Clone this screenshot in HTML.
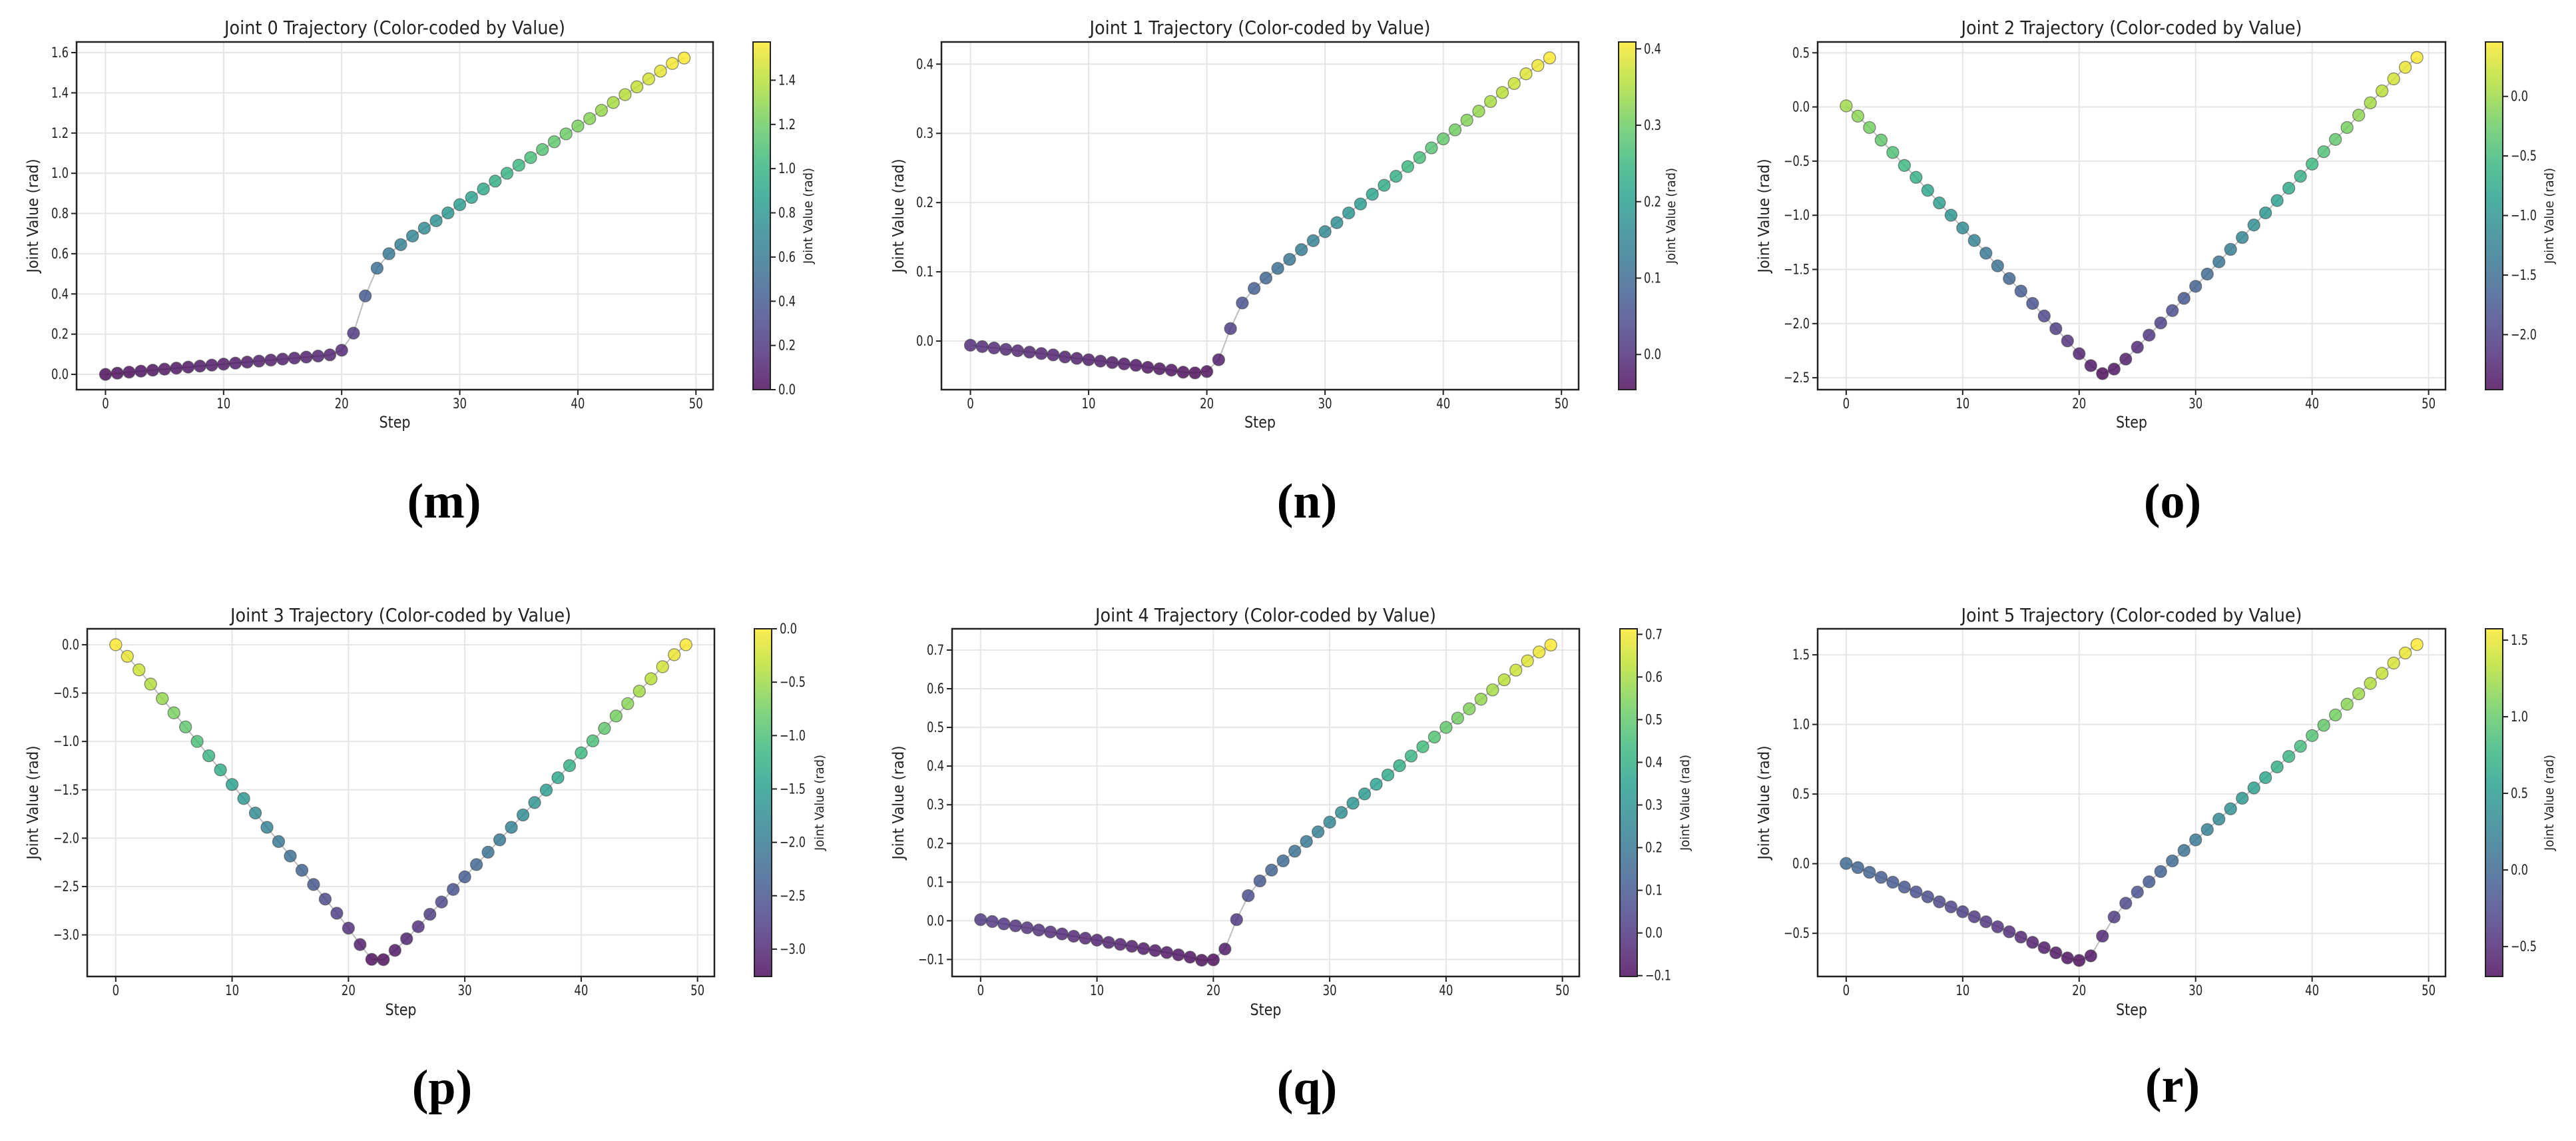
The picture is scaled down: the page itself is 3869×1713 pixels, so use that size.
<!DOCTYPE html>
<html><head><meta charset="utf-8"><style>
html,body{margin:0;padding:0;background:#fff;}
svg{display:block;}
text{font-family:"DejaVu Sans","Liberation Sans",sans-serif;fill:#222;}
.lab{font-family:"Liberation Serif",serif;font-weight:bold;fill:#000;}
</style></head><body>
<svg id="fig" width="3869" height="1713" viewBox="0 0 3869 1713" xmlns="http://www.w3.org/2000/svg"></svg>
<script>
const joint0Values=[0,0.006,0.011,0.016,0.021,0.026,0.031,0.036,0.041,0.046,0.051,0.056,0.061,0.066,0.071,0.076,0.081,0.086,0.091,0.097,0.12,0.205,0.39,0.528,0.60,0.645,0.688,0.727,0.764,0.803,0.844,0.88,0.922,0.961,1.0,1.04,1.078,1.118,1.157,1.196,1.235,1.272,1.313,1.352,1.391,1.43,1.469,1.508,1.546,1.573];
const joint1Values=[-0.006,-0.008,-0.010,-0.012,-0.014,-0.016,-0.018,-0.020,-0.023,-0.025,-0.027,-0.029,-0.031,-0.033,-0.035,-0.038,-0.040,-0.042,-0.045,-0.046,-0.044,-0.027,0.018,0.055,0.076,0.091,0.105,0.118,0.132,0.145,0.158,0.171,0.185,0.198,0.212,0.225,0.238,0.252,0.265,0.279,0.292,0.305,0.319,0.332,0.346,0.359,0.372,0.386,0.398,0.409];
const joint2Values=[0.01,-0.085,-0.19,-0.306,-0.42,-0.54,-0.65,-0.77,-0.886,-1.0,-1.117,-1.233,-1.35,-1.467,-1.584,-1.70,-1.814,-1.93,-2.047,-2.16,-2.278,-2.388,-2.462,-2.42,-2.328,-2.218,-2.107,-1.994,-1.88,-1.767,-1.656,-1.543,-1.43,-1.315,-1.205,-1.09,-0.978,-0.864,-0.75,-0.64,-0.527,-0.413,-0.30,-0.19,-0.076,0.038,0.148,0.259,0.366,0.457];
const joint3Values=[0,-0.12,-0.26,-0.407,-0.557,-0.704,-0.85,-1.0,-1.148,-1.294,-1.445,-1.59,-1.74,-1.888,-2.035,-2.185,-2.332,-2.479,-2.63,-2.776,-2.93,-3.10,-3.253,-3.256,-3.16,-3.04,-2.915,-2.787,-2.66,-2.53,-2.40,-2.273,-2.145,-2.017,-1.888,-1.76,-1.632,-1.503,-1.375,-1.25,-1.118,-0.994,-0.865,-0.737,-0.609,-0.48,-0.352,-0.227,-0.103,0];
const joint4Values=[0.003,-0.002,-0.008,-0.013,-0.018,-0.024,-0.029,-0.034,-0.040,-0.045,-0.050,-0.056,-0.061,-0.066,-0.072,-0.077,-0.082,-0.088,-0.094,-0.102,-0.101,-0.073,0.003,0.065,0.103,0.131,0.155,0.18,0.205,0.23,0.255,0.28,0.304,0.328,0.353,0.377,0.401,0.426,0.45,0.475,0.50,0.524,0.548,0.573,0.597,0.623,0.648,0.672,0.695,0.713];
const joint5Values=[0.002,-0.028,-0.062,-0.098,-0.133,-0.168,-0.203,-0.238,-0.274,-0.31,-0.345,-0.381,-0.417,-0.453,-0.489,-0.527,-0.565,-0.603,-0.64,-0.677,-0.695,-0.662,-0.52,-0.383,-0.284,-0.204,-0.13,-0.056,0.02,0.095,0.171,0.245,0.32,0.394,0.47,0.544,0.618,0.695,0.77,0.843,0.92,0.994,1.068,1.145,1.22,1.295,1.367,1.441,1.513,1.574];
const xTickLabels=[0,10,20,30,40,50];
const yTicks0=[0,0.2,0.4,0.6,0.8,1.0,1.2,1.4,1.6];
const yTicks1=[0,0.1,0.2,0.3,0.4];
const yTicks2=[-2.5,-2.0,-1.5,-1.0,-0.5,0,0.5];
const yTicks3=[-3.0,-2.5,-2.0,-1.5,-1.0,-0.5,0];
const yTicks4=[-0.1,0,0.1,0.2,0.3,0.4,0.5,0.6,0.7];
const yTicks5=[-0.5,0,0.5,1.0,1.5];
const cbTicks0=[0,0.2,0.4,0.6,0.8,1.0,1.2,1.4];
const cbTicks1=[0,0.1,0.2,0.3,0.4];
const cbTicks2=[-2.0,-1.5,-1.0,-0.5,0];
const cbTicks3=[-3.0,-2.5,-2.0,-1.5,-1.0,-0.5,0];
const cbTicks4=[-0.1,0,0.1,0.2,0.3,0.4,0.5,0.6,0.7];
const cbTicks5=[-0.5,0,0.5,1.0,1.5];
const panelLetters=["(m)","(n)","(o)","(p)","(q)","(r)"];

const panels=[
 {vals:joint0Values,yt:yTicks0,cbt:cbTicks0,L:115,R:1071,T:63,B:585,ymin:-0.076,ymax:1.653,cbL:1131,ylx:50,cblx:1214,lx:667,ly:777,ty:51,xly:642,xtb:613},
 {vals:joint1Values,yt:yTicks1,cbt:cbTicks1,L:1414,R:2371,T:63,B:585,ymin:-0.0702,ymax:0.432,cbL:2431,ylx:1350,cblx:2510,lx:1963,ly:777,ty:51,xly:642,xtb:613},
 {vals:joint2Values,yt:yTicks2,cbt:cbTicks2,L:2730,R:3673,T:63,B:585,ymin:-2.61,ymax:0.60,cbL:3733,ylx:2650,cblx:3829,lx:3263,ly:777,ty:51,xly:642,xtb:613},
 {vals:joint3Values,yt:yTicks3,cbt:cbTicks3,L:131,R:1073,T:944,B:1466,ymin:-3.43,ymax:0.165,cbL:1133,ylx:50,cblx:1231,lx:664,ly:1657,ty:933,xly:1524,xtb:1494},
 {vals:joint4Values,yt:yTicks4,cbt:cbTicks4,L:1430,R:2372,T:944,B:1466,ymin:-0.144,ymax:0.755,cbL:2433,ylx:1350,cblx:2531,lx:1963,ly:1657,ty:933,xly:1524,xtb:1494},
 {vals:joint5Values,yt:yTicks5,cbt:cbTicks5,L:2730,R:3673,T:944,B:1466,ymin:-0.81,ymax:1.687,cbL:3733,ylx:2650,cblx:3829,lx:3263,ly:1654,ty:933,xly:1524,xtb:1494}
];

const VIR=[[68,1,84],[72,40,120],[62,74,137],[49,104,142],[38,130,142],[31,158,137],[53,183,121],[109,205,89],[180,222,44],[253,231,37]];
function viridis(t){t=Math.max(0,Math.min(1,t));const p=t*(VIR.length-1);const i=Math.min(VIR.length-2,Math.floor(p));const f=p-i;
 const c=VIR[i].map((v,k)=>Math.round(v+(VIR[i+1][k]-v)*f));return `rgb(${c[0]},${c[1]},${c[2]})`;}

const NS="http://www.w3.org/2000/svg";
const svg=document.getElementById('fig');
function mk(tag,attrs,parent,txt){const e=document.createElementNS(NS,tag);for(const k in attrs)e.setAttribute(k,attrs[k]);if(txt!==undefined)e.textContent=txt;(parent||svg).appendChild(e);return e;}
function fmt(v){const s=v.toFixed(1);return (v<-1e-9?'\u2212'+s.slice(1):(s==='-0.0'?'0.0':s));}
function tlen(s){let w=0;for(const ch of s){w+=(ch==='.')?5:(ch==='\u2212'?13:10.5);}return w;}

const defs=mk('defs',{});
panels.forEach((P,pi)=>{
 const g=mk('g',{});
 
 
 const xs=v=>P.L+(v+2.45)/(53.9)*(P.R-P.L);
 const ys=v=>P.B-(v-P.ymin)/(P.ymax-P.ymin)*(P.B-P.T);
 const vmin=Math.min(...P.vals),vmax=Math.max(...P.vals);
 xTickLabels.forEach(t=>{const l=mk('line',{x1:xs(t),x2:xs(t),y1:P.T,y2:P.B,stroke:'#e6e6e6','stroke-width':2},g);
  });
 P.yt.forEach(t=>{const l=mk('line',{x1:P.L,x2:P.R,y1:ys(t),y2:ys(t),stroke:'#e6e6e6','stroke-width':2},g);
  });
 const pts=P.vals.map((v,i)=>xs(i)+','+ys(v)).join(' ');
 const pl=mk('polyline',{points:pts,fill:'none',stroke:'#bdbdbd','stroke-width':2},g);
 
 P.vals.forEach((v,i)=>{const c=mk('circle',{cx:xs(i),cy:ys(v),r:9,fill:viridis((v-vmin)/(vmax-vmin)),'fill-opacity':0.8,stroke:'#444','stroke-opacity':0.6,'stroke-width':1.3},g);
  });
 const fr=mk('rect',{x:P.L,y:P.T,width:P.R-P.L,height:P.B-P.T,fill:'none',stroke:'#222','stroke-width':2.5},g);
 
 xTickLabels.forEach(t=>{mk('line',{x1:xs(t),x2:xs(t),y1:P.B,y2:P.B+8,stroke:'#222','stroke-width':2},g);
  const s=String(t);
  const tx=mk('text',{x:xs(t),y:P.xtb,'text-anchor':'middle','font-size':21,textLength:tlen(s),lengthAdjust:'spacingAndGlyphs'},g,s);
  });
 P.yt.forEach(t=>{mk('line',{x1:P.L-8,x2:P.L,y1:ys(t),y2:ys(t),stroke:'#222','stroke-width':2},g);
  const s=fmt(t);
  const tx=mk('text',{x:P.L-12,y:ys(t)+7,'text-anchor':'end','font-size':21,textLength:tlen(s),lengthAdjust:'spacingAndGlyphs'},g,s);
  });
 const tt=mk('text',{x:(P.L+P.R)/2,y:P.ty,'text-anchor':'middle','font-size':28,textLength:512,lengthAdjust:'spacingAndGlyphs'},g,'Joint '+pi+' Trajectory (Color-coded by Value)');
 
 const xl=mk('text',{x:(P.L+P.R)/2,y:P.xly,'text-anchor':'middle','font-size':24,textLength:47,lengthAdjust:'spacingAndGlyphs'},g,'Step');
 
 const yl=mk('text',{x:P.ylx,y:(P.T+P.B)/2,'text-anchor':'middle','dominant-baseline':'central','font-size':23,transform:`rotate(-90 ${P.ylx} ${(P.T+P.B)/2})`,textLength:171,lengthAdjust:'spacingAndGlyphs'},g,'Joint Value (rad)');
 
 const gid='vg'+pi;const lg=mk('linearGradient',{id:gid,x1:0,y1:1,x2:0,y2:0},defs);
 for(let k=0;k<=20;k++)mk('stop',{offset:k/20,'stop-color':viridis(k/20),'stop-opacity':0.8},lg);
 const cb=mk('rect',{x:P.cbL,y:P.T,width:26,height:P.B-P.T,fill:`url(#${gid})`,stroke:'#222','stroke-width':2},g);
 
 const cy=v=>P.B-(v-vmin)/(vmax-vmin)*(P.B-P.T);
 P.cbt.forEach(t=>{const y=cy(t);if(y<P.T-1||y>P.B+1)return;
  mk('line',{x1:P.cbL+26,x2:P.cbL+34,y1:y,y2:y,stroke:'#222','stroke-width':2},g);
  const s=fmt(t);
  const tx=mk('text',{x:P.cbL+38,y:y+7,'font-size':21,textLength:tlen(s),lengthAdjust:'spacingAndGlyphs'},g,s);
  });
 const cl=mk('text',{x:P.cblx,y:(P.T+P.B)/2,'text-anchor':'middle','dominant-baseline':'central','font-size':19,transform:`rotate(-90 ${P.cblx} ${(P.T+P.B)/2})`,textLength:144,lengthAdjust:'spacingAndGlyphs'},g,'Joint Value (rad)');
 
 const lb=mk('text',{x:P.lx,y:P.ly,'text-anchor':'middle','font-size':74,class:'lab'},g,panelLetters[pi]);
 
});
</script>
</body></html>
